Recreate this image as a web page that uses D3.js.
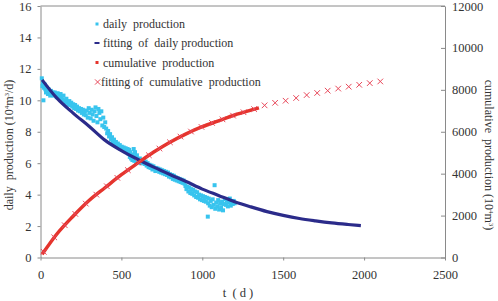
<!DOCTYPE html>
<html><head><meta charset="utf-8">
<script src="https://cdn.jsdelivr.net/npm/d3@7"></script>
<style>
html,body{margin:0;padding:0;background:#fff;}
svg{display:block;font-family:"Liberation Serif","Times New Roman",serif;}
svg text{font-family:"Liberation Serif","Times New Roman",serif;}
</style></head>
<body><svg id="c" width="498" height="301"></svg>
<script>
// ---- data ----
const xTicks = [0, 500, 1000, 1500, 2000, 2500];
const yLeftTicks = [0, 2, 4, 6, 8, 10, 12, 14, 16];
const yRightTicks = [0, 2000, 4000, 6000, 8000, 10000, 12000];

const dailyT = [8,12,15,18,22,26,30,34,38,42,46,50,55,60,
65,70,76,82,88,94,100,106,112,118,124,130,136,142,
148,154,160,166,172,178,184,190,196,202,208,214,220,226,232,238,244,
250,256,262,268,274,280,286,292,298,304,310,316,322,328,334,340,346,352,358,364,370,376,382,388,394,400,
406,412,418,424,430,436,442,448,454,460,466,472,478,
484,490,496,502,508,514,520,526,532,538,
544,548,552,556,560,564,568,572,576,580,584,588,592,596,
602,608,614,620,626,632,638,
644,650,656,662,668,674,680,686,692,698,704,710,716,722,728,734,740,746,752,758,764,
770,776,782,788,794,800,806,812,818,824,830,836,842,848,854,860,866,872,878,884,890,
896,902,908,914,920,926,932,938,944,950,956,962,968,974,980,986,992,998,1004,1010,
1016,1022,1028,1034,1036,1040,1046,1052,1058,1064,1070,1076,1080,1086,1092,1098,1104,1110,1116,1122,1128,1134,
1140,1146,1152,1158,1164,1170,1176,1182,1188,1194,1200];
const dailyQ = [11.4,10.9,11.1,10.0,10.8,11.0,10.7,10.5,10.8,10.6,10.4,10.7,10.5,10.3,
10.6,10.4,10.5,10.3,10.5,10.35,10.2,10.45,10.3,10.15,10.4,10.2,10.05,10.3,
10.0,9.85,10.1,9.9,9.75,9.95,9.7,9.85,9.6,9.75,9.5,9.7,9.45,9.6,9.35,9.5,9.3,
9.45,9.2,9.4,9.1,9.3,9.05,9.35,8.9,9.5,9.2,8.85,9.4,9.1,8.7,9.3,9.55,9.0,8.6,9.45,9.2,8.8,9.3,8.4,8.9,8.3,8.6,
8.2,7.9,8.05,7.7,7.85,7.5,7.65,7.35,7.5,7.2,7.35,7.1,7.25,
7.0,7.15,6.9,7.05,6.85,7.0,6.8,6.95,6.75,6.9,
6.6,6.85,6.4,6.7,6.3,6.55,6.2,6.45,6.9,6.15,6.7,6.35,6.05,6.5,
6.25,6.1,6.3,6.0,6.2,6.05,6.15,
5.95,6.1,5.85,6.0,5.75,5.9,5.7,5.85,5.6,5.8,5.65,5.5,5.7,5.55,5.65,5.45,5.6,5.4,5.55,5.35,5.5,
5.3,5.45,5.25,5.4,5.15,5.3,5.1,5.25,5.0,5.2,4.95,5.1,4.9,5.05,4.85,5.0,4.8,4.95,4.75,4.9,4.7,
4.55,4.35,4.5,4.2,4.45,4.1,4.35,4.05,4.3,3.95,4.2,3.85,4.15,3.8,4.0,3.7,3.95,3.65,3.9,3.6,
3.85,3.55,3.8,2.6,3.45,3.75,3.3,3.6,3.2,3.7,3.35,4.6,3.1,3.5,3.25,3.65,3.05,3.45,3.2,3.55,3.0,3.4,
3.7,3.35,3.6,3.25,3.5,3.75,3.3,3.55,3.4,3.6,3.45];

const fitDailyT = [10,100,200,300,400,500,600,700,800,900,1000,1100,1200,1300,1400,1500,1600,1700,1800,1900,1980];
const fitDailyQ = [11.3,10.15,9.2,8.35,7.45,6.8,6.25,5.75,5.28,4.83,4.35,3.95,3.55,3.22,2.92,2.68,2.48,2.33,2.2,2.1,2.03];

const cumT = [10,100,200,300,400,500,600,700,800,900,1000,1100,1200,1300,1350];
const cumQ = [150,1110,1960,2720,3340,3950,4500,5030,5500,5900,6240,6520,6800,7030,7140];

const fitCumT = [20,85,150,215,280,345,410,475,540,605,670,735,800,865,930,995,1060,1125,1190,1255,1320,1385,1450,1515,1580,1645,1710,1775,1840,1905,1970,2035,2100];
const fitCumQ = [270,960,1540,2080,2570,3000,3400,3800,4170,4530,4880,5200,5500,5770,6010,6230,6420,6590,6770,6930,7080,7260,7380,7480,7610,7750,7850,7960,8060,8150,8240,8320,8400];

const legendLabels = ["daily  production","fitting  of  daily production","cumulative  production","fitting of  cumulative  production"];

// ---- chart ----
const FONT = "Liberation Serif, Times New Roman, serif";
const svg = d3.select("#c");
const x = d3.scaleLinear().domain([0,2500]).range([40.5,445]);
const yL = d3.scaleLinear().domain([0,16]).range([257.5,6]);
const yR = d3.scaleLinear().domain([0,12000]).range([257.5,6]);
const axisColor = "#8a8a8a", textColor = "#333";

// frame top
svg.append("line").attr("x1",x(0)).attr("x2",x(2500)).attr("y1",yL(16)).attr("y2",yL(16))
  .attr("stroke",axisColor).attr("stroke-width",1);

function styleAxis(g){
  g.attr("font-family",FONT).attr("font-size",12.5);
  g.selectAll(".domain").attr("stroke",axisColor).attr("stroke-width",1);
  g.selectAll(".tick line").attr("stroke",axisColor);
  g.selectAll(".tick text").attr("fill",textColor);
}
const fmt = d3.format("d");
const gx = svg.append("g").attr("transform","translate(0,257.5)")
  .call(d3.axisBottom(x).tickValues(xTicks).tickFormat(fmt).tickSizeInner(3).tickSizeOuter(0).tickPadding(10));
styleAxis(gx);
const gl = svg.append("g").attr("transform","translate(40.5,0)")
  .call(d3.axisLeft(yL).tickValues(yLeftTicks).tickFormat(fmt).tickSizeInner(3).tickSizeOuter(0).tickPadding(6));
styleAxis(gl);
const gr = svg.append("g").attr("transform","translate(445,0)")
  .call(d3.axisRight(yR).tickValues(yRightTicks).tickFormat(fmt).tickSizeInner(-4).tickSizeOuter(0).tickPadding(7));
styleAxis(gr);

// daily scatter
const daily = dailyT.map((t,i)=>({t,q:dailyQ[i]}));
svg.append("g").selectAll("rect").data(daily).join("rect")
  .attr("x",d=>x(d.t)-2).attr("y",d=>yL(d.q)-2).attr("width",4).attr("height",4)
  .attr("fill","#38c4ee");

// fitting daily
const fitD = fitDailyT.map((t,i)=>({t,q:fitDailyQ[i]}));
svg.append("path").datum(fitD)
  .attr("d",d3.line().x(d=>x(d.t)).y(d=>yL(d.q)).curve(d3.curveMonotoneX))
  .attr("fill","none").attr("stroke","#2b2b8a").attr("stroke-width",3.2);

// cumulative
const cum = cumT.map((t,i)=>({t,q:cumQ[i]}));
svg.append("path").datum(cum)
  .attr("d",d3.line().x(d=>x(d.t)).y(d=>yR(d.q)).curve(d3.curveMonotoneX))
  .attr("fill","none").attr("stroke","#e5342c").attr("stroke-width",3.5);

// fitting cumulative crosses
const fitC = fitCumT.map((t,i)=>({t,q:fitCumQ[i]}));
const cs = 2.8;
svg.append("g").selectAll("path").data(fitC).join("path")
  .attr("d",d=>{const cx=x(d.t), cy=yR(d.q);
    return `M${cx-cs},${cy-cs}L${cx+cs},${cy+cs}M${cx-cs},${cy+cs}L${cx+cs},${cy-cs}`;})
  .attr("stroke","#e8485a").attr("stroke-width",1).attr("fill","none");

// legend
const lg = svg.append("g").attr("font-family",FONT);
const rows = [24,43,62.5,82];
lg.append("rect").attr("x",95.5).attr("y",rows[0]-1.5).attr("width",3).attr("height",3).attr("fill","#38c4ee");
lg.append("line").attr("x1",94.5).attr("x2",99.5).attr("y1",rows[1]).attr("y2",rows[1]).attr("stroke","#2b2b8a").attr("stroke-width",2);
lg.append("rect").attr("x",95.5).attr("y",rows[2]-1.5).attr("width",3).attr("height",3).attr("fill","#e5342c");
lg.append("path").attr("d",`M${95},${rows[3]-2.6}L${100.2},${rows[3]+2.6}M${95},${rows[3]+2.6}L${100.2},${rows[3]-2.6}`)
  .attr("stroke","#e8485a").attr("stroke-width",1);
legendLabels.forEach((s,i)=>{
  lg.append("text").attr("x",i===3?101:103).attr("y",rows[i]+4).text(s)
    .attr("fill",textColor).attr("font-size",12).attr("xml:space","preserve");
});

// axis titles
svg.append("text").attr("x",238).attr("y",297).attr("text-anchor","middle")
  .attr("fill",textColor).attr("font-size",12.5).attr("xml:space","preserve").text("t  ( d )");
const lt = svg.append("text").attr("transform","translate(13,145) rotate(-90)").attr("text-anchor","middle")
  .attr("fill",textColor).attr("font-size",12).attr("xml:space","preserve");
lt.append("tspan").text("daily  production (10");
lt.append("tspan").attr("dy",-4).attr("font-size",7).text("4");
lt.append("tspan").attr("dy",4).text("m");
lt.append("tspan").attr("dy",-4).attr("font-size",7).text("3");
lt.append("tspan").attr("dy",4).text("/d)");
const rt = svg.append("text").attr("transform","translate(485,155) rotate(90)").attr("text-anchor","middle")
  .attr("fill",textColor).attr("font-size",12).attr("xml:space","preserve");
rt.append("tspan").text("cumulative  production (10");
rt.append("tspan").attr("dy",-4).attr("font-size",7).text("4");
rt.append("tspan").attr("dy",4).text("m");
rt.append("tspan").attr("dy",-4).attr("font-size",7).text("3");
rt.append("tspan").attr("dy",4).text(")");
</script></body></html>
